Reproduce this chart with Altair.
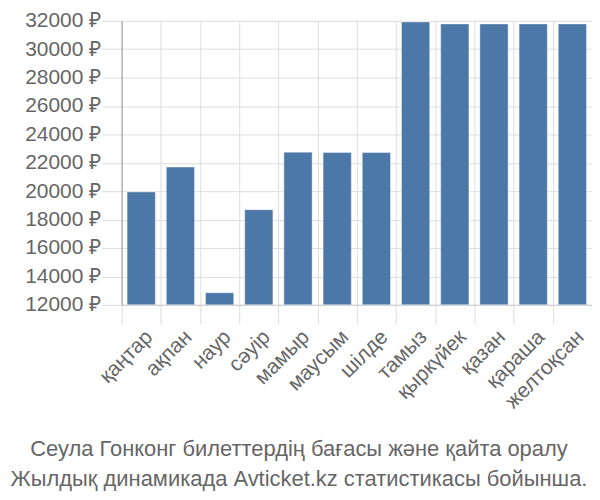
import altair as alt
import pandas as pd

months = ["қаңтар", "ақпан", "наур", "сәуір", "мамыр", "маусым", "шілде",
          "тамыз", "қыркүйек", "қазан", "қараша", "желтоқсан"]
prices = [19950, 21700, 12850, 18700, 22750, 22730, 22720,
          31920, 31780, 31780, 31780, 31780]
y_ticks = [12000, 14000, 16000, 18000, 20000, 22000, 24000, 26000, 28000, 30000, 32000]
title_lines = ["Сеула Гонконг билеттердің бағасы және қайта оралу",
               "Жылдық динамикада Avticket.kz статистикасы бойынша."]

df = pd.DataFrame({"month": months, "price": prices})

FONT = "Liberation Sans"
TXT = "#666666"

chart = alt.Chart(df).mark_bar(
    width=alt.RelativeBandSize(0.72), color="#4c78a8",
    stroke="#ffffff", strokeOpacity=0.4, strokeWidth=1
).encode(
    x=alt.X("month:N", sort=months,
            scale=alt.Scale(paddingInner=0, paddingOuter=0),
            axis=alt.Axis(title=None, labelAngle=-45, tickBand="extent",
                          labelFontSize=21, labelFont=FONT, labelColor=TXT,
                          tickSize=19, tickColor="#dddddd", gridColor="#dddddd",
                          grid=True, domainColor="#cccccc", labelPadding=2)),
    y=alt.Y("price:Q",
            scale=alt.Scale(domain=[12000, 32000], nice=False, zero=False),
            axis=alt.Axis(title=None, values=y_ticks, labelExpr="datum.value + ' ₽'",
                          labelFontSize=21, labelFont=FONT, labelColor=TXT,
                          tickSize=20, tickColor="#dddddd", gridColor="#dddddd",
                          domainColor="#999999", labelPadding=1)),
    y2=alt.datum(12000),
).properties(
    width=472, height=285,
    autosize=alt.AutoSizeParams(type="none"),
    padding={"left": 114, "top": 12, "right": 0, "bottom": 187},
    title=alt.TitleParams(text=title_lines, orient="bottom", anchor="middle",
                          fontSize=22, font=FONT, color=TXT, fontWeight="normal",
                          offset=27, lineHeight=30, dx=-58),
).configure_view(strokeWidth=0)

chart.save("out.html", embed_options={"renderer": "svg", "actions": False})
